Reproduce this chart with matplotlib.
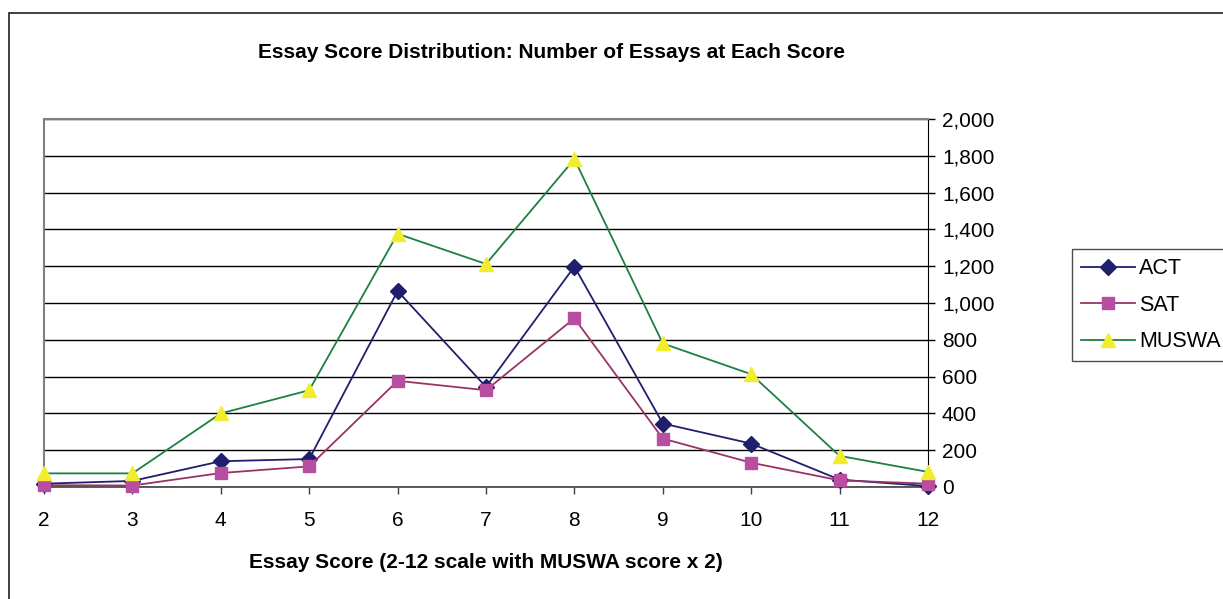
import numpy as np
import matplotlib
matplotlib.use("Agg")
import matplotlib.pyplot as plt
from matplotlib.patches import Rectangle
from matplotlib.ticker import FuncFormatter, MultipleLocator

plt.rcParams['font.family'] = ['Liberation Sans', 'DejaVu Sans']

# data
scores = [2, 3, 4, 5, 6, 7, 8, 9, 10, 11, 12]
act = [18, 33, 140, 152, 1065, 544, 1198, 345, 236, 40, 5]
sat = [10, 8, 76, 112, 577, 526, 917, 263, 132, 36, 18]
muswa = [74, 74, 400, 526, 1376, 1212, 1782, 780, 613, 169, 82]

W, H = 1223, 599
fig = plt.figure(figsize=(W / 100, H / 100), dpi=100)

# outer chart border (right/bottom run off the picture)
fig.patches.append(Rectangle((9 / W, -0.1), 1.2, 1 - 13 / H + 0.1,
                             transform=fig.transFigure, fill=False,
                             edgecolor='#202020', linewidth=1.2))

ax = fig.add_axes([44 / W, 1 - 487 / H, (928 - 44) / W, (487 - 119) / H])

ax.plot(scores, act, color='#1F1F6E', lw=1.3, marker='D', ms=8,
        mfc='#1F1F6E', mec='#1F1F6E', label='ACT', clip_on=False, zorder=3)
ax.plot(scores, sat, color='#993366', lw=1.3, marker='s', ms=8.5,
        mfc='#B84EA0', mec='#B84EA0', label='SAT', clip_on=False, zorder=4)
ax.plot(scores, muswa, color='#1E8040', lw=1.3, marker='^', ms=10.5,
        mfc='#F2EC2E', mec='#F2EC2E', label='MUSWA', clip_on=False, zorder=5)

ax.set_xlim(2, 12)
ax.set_ylim(0, 2000)
ax.set_xticks(scores)
ax.yaxis.set_major_locator(MultipleLocator(200))
ax.yaxis.set_major_formatter(FuncFormatter(lambda v, p: f'{int(v):,}'))
ax.yaxis.tick_right()
ax.grid(axis='y', color='black', lw=1)
ax.set_axisbelow(True)

for s in ['left', 'top']:
    ax.spines[s].set_color('#808080')
    ax.spines[s].set_linewidth(1.5)
ax.spines['right'].set_color('black')
ax.spines['bottom'].set_color('#404040')
ax.spines['bottom'].set_linewidth(1.2)

ax.tick_params(axis='x', direction='out', length=5, width=1, pad=12,
               labelsize=15, color='#404040')
ax.tick_params(axis='y', direction='out', length=5, width=1, pad=5,
               labelsize=15)

fig.text(551 / W, 1 - 52 / H, 'Essay Score Distribution: Number of Essays at Each Score',
         ha='center', va='center', fontsize=15, fontweight='bold')
fig.text(486 / W, 1 - 562 / H, 'Essay Score (2-12 scale with MUSWA score x 2)',
         ha='center', va='center', fontsize=15, fontweight='bold')

leg = ax.legend(loc='upper left', bbox_to_anchor=(1072 / W, 1 - 249 / H),
                bbox_transform=fig.transFigure, fontsize=15.5, frameon=True,
                fancybox=False, handlelength=2.5, handletextpad=0.2,
                labelspacing=0.72, borderpad=0.42, borderaxespad=0)
leg.get_frame().set_edgecolor('#202020')
leg.get_frame().set_linewidth(1)

fig.savefig('out.png', dpi=100)
